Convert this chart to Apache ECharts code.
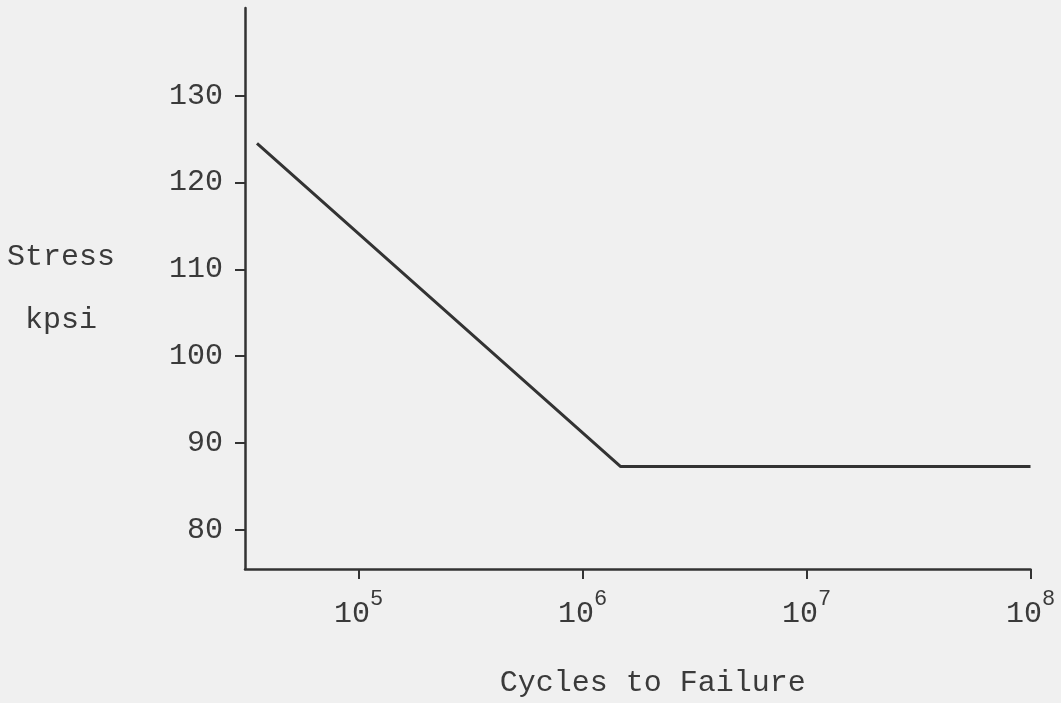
<!DOCTYPE html>
<html>
<head>
<meta charset="utf-8">
<script src="https://cdn.jsdelivr.net/npm/echarts@6/dist/echarts.min.js"></script>
<style>
  html, body { margin: 0; padding: 0; background: #f0f0f0; }
  #chart { width: 1061px; height: 703px; }
</style>
</head>
<body>
<div id="chart"></div>
<script>
// S-N curve: sloped fatigue line down to the endurance limit, then flat
const cycles = [35200, 1480000, 100000000];
const stressKpsi = [124.5, 87.3, 87.3];
const cycleExponents = [5, 6, 7, 8];
const stressTicks = [80, 90, 100, 110, 120, 130];

const ink = '#333333';
const textInk = '#3a3a3a';
const font = '"Liberation Mono", "Courier New", monospace';

// the horizontal axis runs on log10(cycles)
const points = cycles.map((c, i) => [Math.log10(c), stressKpsi[i]]);

const chart = echarts.init(document.getElementById('chart'));
chart.setOption({
  backgroundColor: '#f0f0f0',
  animation: false,
  grid: { left: 245, right: 30.5, top: 8, bottom: 129 },
  xAxis: {
    type: 'value',
    min: 4.493,
    max: 8,
    name: 'Cycles to Failure',
    nameLocation: 'middle',
    nameGap: 99,
    nameTextStyle: {
      fontFamily: font, fontSize: 30, color: textInk,
      lineHeight: 30, padding: [0, 0, 0, 30]
    },
    axisLine: { show: true, onZero: false, lineStyle: { color: ink, width: 2.5 } },
    axisTick: { show: true, length: 10, customValues: cycleExponents,
      lineStyle: { color: ink, width: 2 } },
    splitLine: { show: false },
    axisLabel: {
      customValues: cycleExponents,
      margin: 19,
      formatter: v => '{b|10}{s|' + v + '}',
      rich: {
        b: { fontFamily: font, fontSize: 30, color: textInk, lineHeight: 53 },
        s: { fontFamily: font, fontSize: 22, color: textInk, lineHeight: 22, verticalAlign: 'top' }
      }
    }
  },
  yAxis: {
    type: 'value',
    min: 75.5,
    max: 140.1,
    name: 'Stress\nkpsi',
    nameLocation: 'middle',
    nameRotate: 0,
    nameGap: 184,
    nameTextStyle: {
      fontFamily: font, fontSize: 30, color: textInk,
      align: 'center', verticalAlign: 'middle',
      lineHeight: 63, padding: [0, 0, 63, 0]
    },
    axisLine: { show: true, onZero: false, lineStyle: { color: ink, width: 2.5 } },
    axisTick: { show: true, length: 10, customValues: stressTicks,
      lineStyle: { color: ink, width: 2 } },
    splitLine: { show: false },
    axisLabel: {
      customValues: stressTicks,
      margin: 22,
      fontFamily: font, fontSize: 30, color: textInk
    }
  },
  series: [{
    type: 'line',
    data: points,
    showSymbol: false,
    lineStyle: { color: ink, width: 3 }
  }]
});
</script>
</body>
</html>
